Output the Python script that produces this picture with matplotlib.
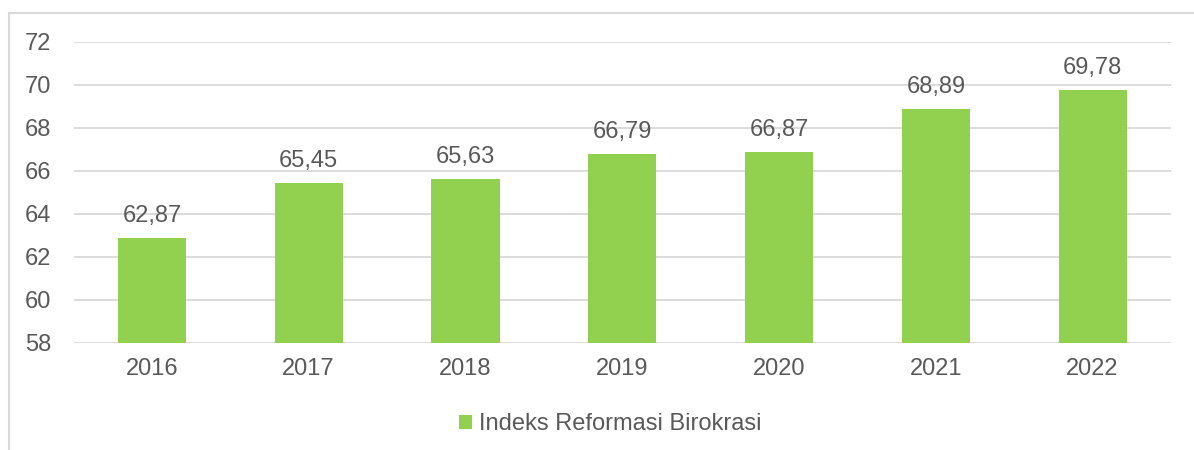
import matplotlib
matplotlib.use("Agg")
import matplotlib.pyplot as plt
from matplotlib.patches import Rectangle

years = ["2016", "2017", "2018", "2019", "2020", "2021", "2022"]
values = [62.87, 65.45, 65.63, 66.79, 66.87, 68.89, 69.78]
series_name = "Indeks Reformasi Birokrasi"
yticks = [58, 60, 62, 64, 66, 68, 70, 72]

plt.rcParams['font.family'] = ['Liberation Sans', 'DejaVu Sans']
TXT = "#595959"
GRID = "#D9D9D9"
GREEN = "#92D050"
FS = 17

W, H = 1194, 450
fig = plt.figure(figsize=(W / 100, H / 100), dpi=100)
ax = fig.add_axes([73.5 / W, 1 - 343 / H, (1171 - 73.5) / W, (343 - 42) / H])

x = list(range(len(years)))
bars = ax.bar(x, [v - 58 for v in values], bottom=58, width=0.435, color=GREEN,
              label=series_name, zorder=3)

for xi, v in zip(x, values):
    ax.annotate(f"{v:.2f}".replace(".", ","), (xi, v), xytext=(0, 8),
                textcoords="offset points", ha="center", va="bottom",
                fontsize=FS, color=TXT)

ax.set_xlim(-0.5, len(years) - 0.5)
ax.set_ylim(58, 72)
ax.set_yticks(yticks)
ax.set_yticklabels([str(t) for t in yticks])
ax.set_xticks(x)
ax.set_xticklabels(years)
ax.tick_params(axis='y', length=0, pad=16, labelsize=FS, labelcolor=TXT)
ax.tick_params(axis='x', length=0, pad=11, labelsize=FS, labelcolor=TXT)
ax.grid(axis='y', color=GRID, linewidth=1.3, zorder=0)
ax.set_axisbelow(True)
for s in ax.spines.values():
    s.set_visible(False)

leg = fig.legend(handles=[bars], labels=[series_name], loc="center",
                 bbox_to_anchor=(610 / W, 1 - 424 / H), frameon=False,
                 fontsize=FS, handlelength=0.55, handleheight=0.55,
                 handletextpad=0.3, borderpad=0, borderaxespad=0)
for t in leg.get_texts():
    t.set_color(TXT)

frame = Rectangle((9 / W, -0.05), 1.1, 1 - 13 / H + 0.05, transform=fig.transFigure,
                  fill=False, edgecolor=GRID, linewidth=1.5)
fig.patches.append(frame)

fig.savefig("out.png", dpi=100)
